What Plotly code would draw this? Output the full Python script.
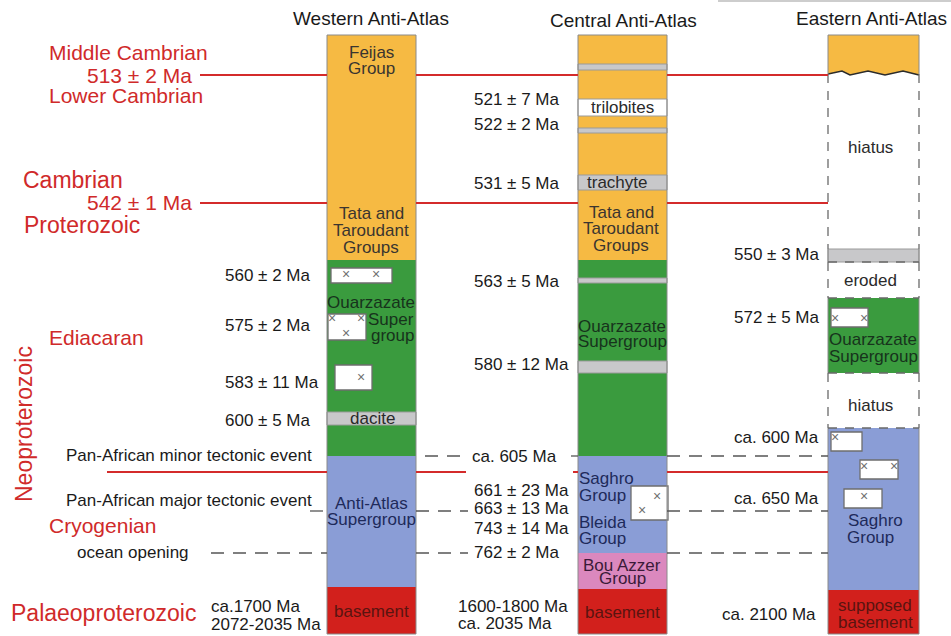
import plotly.graph_objects as go

FONT = "Liberation Sans, Arial, sans-serif"

# ---------------- data ----------------
col_titles = ["Western Anti-Atlas", "Central Anti-Atlas", "Eastern Anti-Atlas"]
col_left = [327, 578, 828]
col_right = [416, 667, 919]
col_top = 35
col_bottom = 634
title_x = [371, 623, 871]
title_y = [18, 20, 18]

ORANGE, GREEN, BLUE, RED, PINK, GRAY, WHITE = (
    "#F6BA43", "#3A9B3E", "#8A9DD6", "#D2201C", "#DB88BE", "#C8C8CA", "#FFFFFF")

# stratigraphic layers: column index, top, bottom, fill
layer_col = [0, 0, 0, 0, 0,
             1, 1, 1, 1, 1, 1, 1, 1, 1, 1, 1,
             2, 2, 2, 2]
layer_top = [35, 260, 412, 456, 587,
             35, 64, 99, 128, 175, 260, 278, 361, 456, 553, 589,
             249, 298, 428, 590]
layer_bot = [260, 456, 425, 587, 634,
             260, 70, 116, 133, 190, 456, 283, 373, 553, 589, 634,
             262, 373, 590, 634]
layer_fill = [ORANGE, GREEN, GRAY, BLUE, RED,
              ORANGE, GRAY, WHITE, GRAY, GRAY, GREEN, GRAY, GRAY, BLUE, PINK, RED,
              GRAY, GREEN, BLUE, RED]

# eastern top (orange) with wavy unconformity
wave_x = [828, 842, 850, 868, 885, 903, 919]
wave_y = [74, 71, 75, 71, 75, 71, 75]

# white boxes (intrusions) with x marks
box_x0 = [331, 328, 335, 631, 831, 831, 860, 844]
box_x1 = [392, 366, 372, 668, 868, 862, 898, 882]
box_y0 = [268, 314, 365, 486, 308, 432, 460, 489]
box_y1 = [283, 340, 390, 520, 327, 451, 479, 508]
mark_x = [346, 376, 332, 361, 346, 361, 657, 642, 835, 864, 835, 864, 894, 864]
mark_y = [275, 275, 319, 319, 334, 378, 497, 511, 319, 319, 438, 467, 467, 497]

# eastern column dashed (hiatus / eroded) intervals
east_dash_tops = [74, 262, 373]
east_dash_bots = [249, 298, 428]
east_solid_tops = [35, 249, 298, 428]
east_solid_bots = [74, 262, 373, 634]
east_dash_h = [262, 298, 373, 428]

# red boundary lines: y, list of x segments
red_y = [75, 203, 472]
red_segments = [
    [(200, 327), (416, 578), (667, 828)],
    [(200, 327), (416, 578), (667, 828)],
    [(107, 327), (416, 466), (573, 578), (667, 828)],
]
# dashed event lines
dash_y = [456, 511, 553]
dash_segments = [
    [(425, 468), (571, 578), (667, 828)],
    [(310, 327), (416, 468), (667, 828)],
    [(211, 327), (416, 468), (667, 828)],
]

# red period labels
period_text = ["Middle Cambrian", "513 ± 2 Ma", "Lower Cambrian", "Cambrian",
               "542 ± 1 Ma", "Proterozoic", "Ediacaran", "Cryogenian",
               "Palaeoproterozoic"]
period_x = [48, 193, 48, 22, 193, 23, 48, 48, 10]
period_y = [52, 75, 95, 180, 202, 225, 337, 525, 613]
period_anchor = ["left", "right", "left", "left", "right", "left", "left", "left", "left"]
period_size = [21, 21, 21, 23, 21, 23, 21, 21, 23]
neo_text, neo_x, neo_y = "Neoproterozoic", 24, 424

# black age / event labels
age_text = ["560 ± 2 Ma", "575 ± 2 Ma", "583 ± 11 Ma", "600 ± 5 Ma",
            "Pan-African minor tectonic event", "Pan-African major tectonic event",
            "ocean opening", "ca.1700 Ma", "2072-2035 Ma",
            "521 ± 7 Ma", "522 ± 2 Ma", "531 ± 5 Ma", "563 ± 5 Ma", "580 ± 12 Ma",
            "ca. 605 Ma", "661 ± 23 Ma", "663 ± 13 Ma", "743 ± 14 Ma", "762 ± 2 Ma",
            "1600-1800 Ma", "ca. 2035 Ma",
            "550 ± 3 Ma", "572 ± 5 Ma", "ca. 600 Ma", "ca. 650 Ma", "ca. 2100 Ma"]
age_x = [224, 224, 224, 224, 65, 65, 76, 210, 210,
         473, 473, 473, 473, 473, 471, 473, 473, 473, 473, 457, 457,
         733, 733, 733, 733, 721]
age_y = [275, 325, 382, 420, 455, 500, 552, 606, 624,
         99, 124, 183, 281, 364, 456, 490, 508, 528, 552, 606, 623,
         254, 317, 437, 498, 614]

# labels inside the columns
in_text = ["Feijas", "Group", "Tata and", "Taroudant", "Groups", "Ouarzazate",
           "dacite", "Anti-Atlas", "Supergroup", "basement",
           "trilobites", "Tata and", "Taroudant", "Groups", "Ouarzazate", "Supergroup",
           "Bou Azzer", "Group", "basement",
           "hiatus", "eroded", "Ouarzazate", "Supergroup", "hiatus", "Saghro", "Group",
           "supposed", "basement"]
in_x = [371, 371, 371, 371, 371, 371, 372, 371, 371, 371,
        622, 621, 621, 621, 622, 622, 622, 622, 622,
        870, 870, 873, 873, 870, 875, 870, 875, 875]
in_y = [52, 68, 213, 230, 247, 302, 418, 503, 519, 611,
        107, 212, 228, 245, 326, 341, 565, 578, 612,
        147, 280, 339, 356, 405, 520, 537, 605, 622]
in_color = ["#3a3530", "#3a3530", "#3a3530", "#3a3530", "#3a3530", "#17331c",
            "#2a2a2a", "#1e2a5a", "#1e2a5a", "#5a1410",
            "#2a2a2a", "#3a3530", "#3a3530", "#3a3530", "#17331c", "#17331c",
            "#3a1a38", "#3a1a38", "#5a1410",
            "#2a2a2a", "#2a2a2a", "#17331c", "#17331c", "#2a2a2a", "#1e2a5a", "#1e2a5a",
            "#5a1410", "#5a1410"]
left_text = ["Super", "group", "trachyte", "Saghro", "Group", "Bleida", "Group"]
left_x = [415, 415, 586, 578, 578, 578, 578]
left_y = [319, 335, 182, 478, 495, 522, 538]
left_anchor = ["right", "right", "left", "left", "left", "left", "left"]
left_color = ["#17331c", "#17331c", "#2a2a2a", "#1e2a5a", "#1e2a5a", "#1e2a5a", "#1e2a5a"]

# ---------------- figure ----------------
fig = go.Figure()

cx = [(col_left[c] + col_right[c]) / 2 for c in layer_col]
cw = [col_right[c] - col_left[c] for c in layer_col]
line_c = ["#9a9a9a" if f in (GRAY, WHITE) else f for f in layer_fill]
line_w = [1 if f in (GRAY, WHITE) else 0 for f in layer_fill]
fig.add_trace(go.Bar(
    x=cx, width=cw, base=layer_top,
    y=[b - t for t, b in zip(layer_top, layer_bot)],
    marker=dict(color=layer_fill, line=dict(color=line_c, width=line_w)),
    hoverinfo="skip"))

# orange top of eastern column with wavy base
px = [col_left[2], col_right[2]] + wave_x[::-1]
py = [col_top, col_top] + wave_y[::-1]
fig.add_trace(go.Scatter(x=px, y=py, fill="toself", fillcolor=ORANGE, mode="none",
                         hoverinfo="skip"))
fig.add_trace(go.Scatter(x=wave_x, y=wave_y, mode="lines",
                         line=dict(color="#2b2b2b", width=1.6), hoverinfo="skip"))

# white boxes
fig.add_trace(go.Bar(
    x=[(a + b) / 2 for a, b in zip(box_x0, box_x1)],
    width=[b - a for a, b in zip(box_x0, box_x1)],
    base=box_y0, y=[b - a for a, b in zip(box_y0, box_y1)],
    marker=dict(color=WHITE, line=dict(color="#6e6e6e", width=1.3)),
    hoverinfo="skip"))
fig.add_trace(go.Scatter(x=mark_x, y=mark_y, mode="text", text=["×"] * len(mark_x),
                         textfont=dict(family=FONT, size=14, color="#707070"),
                         hoverinfo="skip"))

# column outlines
ox, oy = [], []
for c in (0, 1):
    ox += [col_left[c], col_left[c], col_right[c], col_right[c], col_left[c], None]
    oy += [col_bottom, col_top, col_top, col_bottom, col_bottom, None]
for t, b in zip(east_solid_tops, east_solid_bots):
    ox += [col_left[2], col_left[2], None, col_right[2], col_right[2], None]
    oy += [t, b, None, t, b, None]
ox += [col_left[2], col_right[2], None, col_left[2], col_right[2], None]
oy += [col_top, col_top, None, col_bottom, col_bottom, None]
fig.add_trace(go.Scatter(x=ox, y=oy, mode="lines",
                         line=dict(color="#8a8a8a", width=1), hoverinfo="skip"))
dx, dy = [], []
for t, b in zip(east_dash_tops, east_dash_bots):
    dx += [col_left[2], col_left[2], None, col_right[2], col_right[2], None]
    dy += [t, b, None, t, b, None]
for h in east_dash_h:
    dx += [col_left[2], col_right[2], None]
    dy += [h, h, None]
fig.add_trace(go.Scatter(x=dx, y=dy, mode="lines",
                         line=dict(color="#6a6a6a", width=1.3, dash="9px,8px"),
                         hoverinfo="skip"))

# red boundary lines
rx, ry = [], []
for y, segs in zip(red_y, red_segments):
    for a, b in segs:
        rx += [a, b, None]
        ry += [y, y, None]
fig.add_trace(go.Scatter(x=rx, y=ry, mode="lines",
                         line=dict(color="#D42B2B", width=2), hoverinfo="skip"))

# dashed event lines
ex, ey = [], []
for y, segs in zip(dash_y, dash_segments):
    for a, b in segs:
        ex += [a, b, None]
        ey += [y, y, None]
fig.add_trace(go.Scatter(x=ex, y=ey, mode="lines",
                         line=dict(color="#555555", width=1.3, dash="13px,9px"),
                         hoverinfo="skip"))

# thin rule at top right
fig.add_shape(type="line", x0=718, x1=951, y0=1, y1=1, xref="x", yref="y",
              line=dict(color="#bdbdbd", width=1.5))

ann = []
for t, x, y in zip(col_titles, title_x, title_y):
    ann.append(dict(text=t, x=x, y=y, xanchor="center",
                    font=dict(size=19, color="#1a1a1a")))
for t, x, y, a, s in zip(period_text, period_x, period_y, period_anchor, period_size):
    ann.append(dict(text=t, x=x, y=y, xanchor=a, font=dict(size=s, color="#D02A2A")))
ann.append(dict(text=neo_text, x=neo_x, y=neo_y, xanchor="center", textangle=-90,
                font=dict(size=23, color="#D02A2A")))
for t, x, y in zip(age_text, age_x, age_y):
    ann.append(dict(text=t, x=x, y=y, xanchor="left", font=dict(size=17, color="#1a1a1a")))
for t, x, y, c in zip(in_text, in_x, in_y, in_color):
    ann.append(dict(text=t, x=x, y=y, xanchor="center", font=dict(size=17, color=c)))
for t, x, y, a, c in zip(left_text, left_x, left_y, left_anchor, left_color):
    ann.append(dict(text=t, x=x, y=y, xanchor=a, font=dict(size=17, color=c)))
for a in ann:
    a.update(xref="x", yref="y", showarrow=False, yanchor="middle",
             borderpad=0)
    a["font"]["family"] = FONT

fig.update_layout(
    width=951, height=636, margin=dict(l=0, r=0, t=0, b=0),
    paper_bgcolor="white", plot_bgcolor="white",
    barmode="overlay", showlegend=False, annotations=ann,
    xaxis=dict(range=[0, 951], visible=False, fixedrange=True),
    yaxis=dict(range=[636, 0], visible=False, fixedrange=True),
)

fig.write_html("out.html")
